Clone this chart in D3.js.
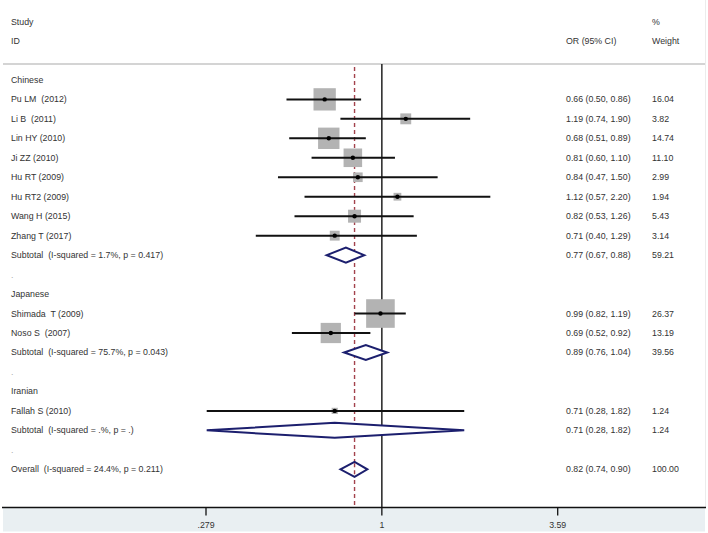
<!DOCTYPE html>
<html>
<head>
<meta charset="utf-8">
<script src="https://cdn.jsdelivr.net/npm/d3@7"></script>
<style>
  body { margin: 0; background: #fff; }
  text { font-family: "Liberation Sans", Arial, sans-serif; font-size: 8.8px; fill: #333; white-space: pre; }
</style>
</head>
<body>
<svg id="chart" width="708" height="533"></svg>
<script>
// rows of the forest plot (after the header)
var rowLabels = ["Chinese", "Pu LM  (2012)", "Li B  (2011)", "Lin HY (2010)", "Ji ZZ (2010)", "Hu RT (2009)",
  "Hu RT2 (2009)", "Wang H (2015)", "Zhang T (2017)", "Subtotal  (I-squared = 1.7%, p = 0.417)", ".",
  "Japanese", "Shimada  T (2009)", "Noso S  (2007)", "Subtotal  (I-squared = 75.7%, p = 0.043)", ".",
  "Iranian", "Fallah S (2010)", "Subtotal  (I-squared = .%, p = .)", ".",
  "Overall  (I-squared = 24.4%, p = 0.211)"]
var rowKinds = ["group", "study", "study", "study", "study", "study", "study", "study", "study", "sub", "blank",
  "group", "study", "study", "sub", "blank",
  "group", "study", "sub", "blank",
  "sub"]
var orValues = [null, 0.66, 1.19, 0.68, 0.81, 0.84, 1.12, 0.82, 0.71, 0.77, null,
  null, 0.99, 0.69, 0.89, null,
  null, 0.71, 0.71, null,
  0.82]
var lowerCI = [null, 0.50, 0.74, 0.51, 0.60, 0.47, 0.57, 0.53, 0.40, 0.67, null,
  null, 0.82, 0.52, 0.76, null,
  null, 0.28, 0.28, null,
  0.74]
var upperCI = [null, 0.86, 1.90, 0.89, 1.10, 1.50, 2.20, 1.26, 1.29, 0.88, null,
  null, 1.19, 0.92, 1.04, null,
  null, 1.82, 1.82, null,
  0.90]
var weights = [null, 16.04, 3.82, 14.74, 11.10, 2.99, 1.94, 5.43, 3.14, 59.21, null,
  null, 26.37, 13.19, 39.56, null,
  null, 1.24, 1.24, null,
  100.00]
var tickValues = [1 / 3.59, 1, 3.59]
var tickLabels = [".279", "1", "3.59"]
var overallOR = 0.82

var svg = d3.select("#chart")
var fmt = d3.format(".2f")

var x = d3.scaleLog().domain([1 / 3.59, 3.59]).range([206, 557.7])
// row 0 = "Study", 1 = "ID", 3 = first data row
var y = function(k) { return 21.5 + k * 19.47 }
var axisY = 507.5
var topY = 64

// bottom band
svg.append("rect").attr("x", 3).attr("y", axisY).attr("width", 702).attr("height", 24)
  .attr("fill", "#e9eff2")
svg.append("line").attr("x1", 705.5).attr("x2", 705.5).attr("y1", 0).attr("y2", axisY)
  .attr("stroke", "#ececec").attr("stroke-width", 1)

// header
svg.append("text").attr("x", 11).attr("y", y(0) + 3).text("Study")
svg.append("text").attr("x", 11).attr("y", y(1) + 3).text("ID")
svg.append("text").attr("x", 566).attr("y", y(1) + 3).text("OR (95% CI)")
svg.append("text").attr("x", 652).attr("y", y(0) + 3).text("%")
svg.append("text").attr("x", 652).attr("y", y(1) + 3).text("Weight")
svg.append("line").attr("x1", 3).attr("x2", 705).attr("y1", topY).attr("y2", topY)
  .attr("stroke", "#c6c6c6").attr("stroke-width", 1.5)

var rows = rowLabels.map(function(d, i) {
  return { label: d, kind: rowKinds[i], or: orValues[i], lo: lowerCI[i], hi: upperCI[i], w: weights[i], k: i + 3 }
})

// reference lines
svg.append("line").attr("x1", x(1)).attr("x2", x(1)).attr("y1", topY).attr("y2", axisY)
  .attr("stroke", "#222").attr("stroke-width", 1.5)
svg.append("line").attr("x1", x(overallOR)).attr("x2", x(overallOR)).attr("y1", topY + 3).attr("y2", axisY)
  .attr("stroke", "#a3424c").attr("stroke-width", 1.4).attr("stroke-dasharray", "4,3")

// labels
svg.selectAll("text.lab").data(rows).join("text")
  .attr("class", "lab")
  .attr("x", 11).attr("y", d => y(d.k) + 3)
  .style("fill", d => d.kind == "blank" ? "#aaa" : "#333")
  .text(d => d.label)

var dataRows = rows.filter(d => d.or != null)
svg.selectAll("text.ci").data(dataRows).join("text")
  .attr("class", "ci")
  .attr("x", 566).attr("y", d => y(d.k) + 3)
  .text(d => fmt(d.or) + " (" + fmt(d.lo) + ", " + fmt(d.hi) + ")")
svg.selectAll("text.wt").data(dataRows).join("text")
  .attr("class", "wt")
  .attr("x", 652).attr("y", d => y(d.k) + 3)
  .text(d => fmt(d.w))

// studies
var studies = rows.filter(d => d.kind == "study")
svg.selectAll("rect.box").data(studies).join("rect")
  .attr("class", "box")
  .attr("x", d => x(d.or) - 2.79 * Math.sqrt(d.w))
  .attr("y", d => y(d.k) - 2.79 * Math.sqrt(d.w))
  .attr("width", d => 5.57 * Math.sqrt(d.w))
  .attr("height", d => 5.57 * Math.sqrt(d.w))
  .attr("fill", "#b3b3b3")
svg.selectAll("line.ci").data(studies).join("line")
  .attr("class", "ci")
  .attr("x1", d => x(d.lo)).attr("x2", d => x(d.hi))
  .attr("y1", d => y(d.k)).attr("y2", d => y(d.k))
  .attr("stroke", "#111").attr("stroke-width", 2)
svg.selectAll("circle.pt").data(studies).join("circle")
  .attr("class", "pt")
  .attr("cx", d => x(d.or)).attr("cy", d => y(d.k)).attr("r", 2.2)
  .attr("fill", "#000")

// pooled diamonds
var subs = rows.filter(d => d.kind == "sub")
svg.selectAll("path.dia").data(subs).join("path")
  .attr("class", "dia")
  .attr("d", function(d) {
    var cy = y(d.k), h = 7.5
    return "M" + x(d.lo) + "," + cy + "L" + x(d.or) + "," + (cy - h) + "L" + x(d.hi) + "," + cy +
      "L" + x(d.or) + "," + (cy + h) + "Z"
  })
  .attr("fill", "#fff").attr("stroke", "#1c1f6e").attr("stroke-width", 2)
// redraw dashed line segment through overall diamond
svg.append("line").attr("x1", x(overallOR)).attr("x2", x(overallOR))
  .attr("y1", y(23) - 6).attr("y2", y(23) + 6)
  .attr("stroke", "#a3424c").attr("stroke-width", 1.4).attr("stroke-dasharray", "4,3")

// axis
svg.append("line").attr("x1", 2).attr("x2", 706).attr("y1", axisY).attr("y2", axisY)
  .attr("stroke", "#111").attr("stroke-width", 1.5)
svg.selectAll("line.tick").data(tickValues).join("line")
  .attr("class", "tick")
  .attr("x1", d => x(d)).attr("x2", d => x(d))
  .attr("y1", axisY).attr("y2", axisY + 8)
  .attr("stroke", "#111").attr("stroke-width", 1.3)
svg.selectAll("text.tl").data(tickValues).join("text")
  .attr("class", "tl")
  .attr("x", d => x(d)).attr("y", 528)
  .attr("text-anchor", "middle")
  .text((d, i) => tickLabels[i])
</script>
</body>
</html>
